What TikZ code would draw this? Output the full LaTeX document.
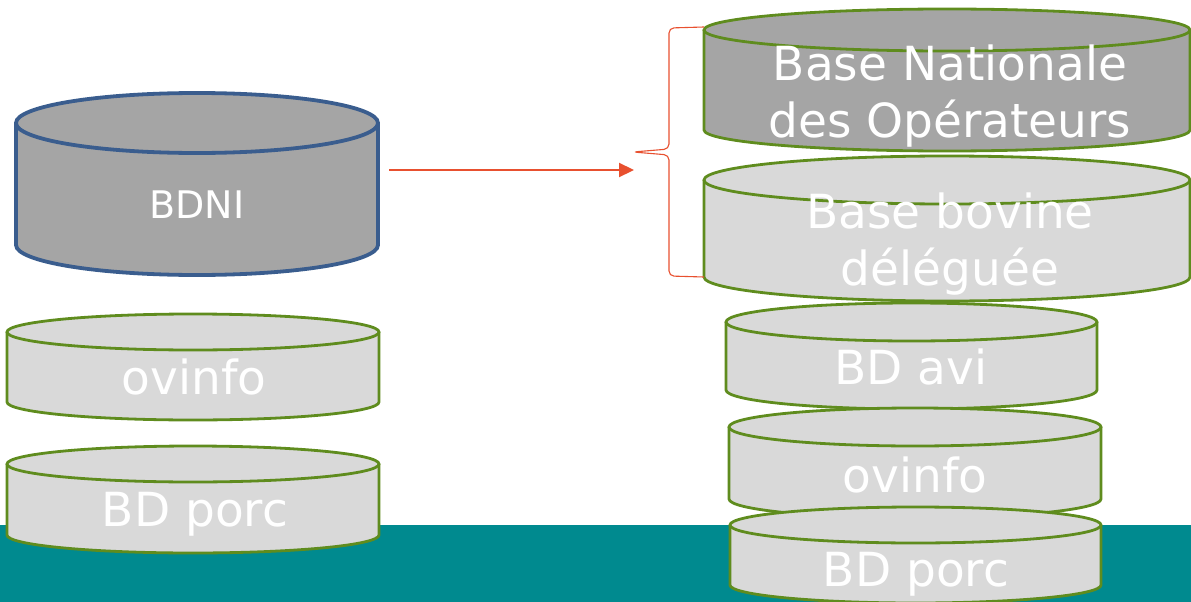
\documentclass[tikz,border=0pt]{standalone}
\usepackage{fontspec}
\setmainfont{DejaVu Sans}
\usetikzlibrary{arrows.meta}
\definecolor{teal}{HTML}{008A8F}
\definecolor{dgray}{HTML}{A5A5A5}
\definecolor{lgray}{HTML}{D9D9D9}
\definecolor{grn}{HTML}{5F8C1E}
\definecolor{blu}{HTML}{3A5D8E}
\definecolor{ored}{HTML}{E8502F}
% name, cx, cy (top centre), rx, ry, h, fill, draw colour, line width
\newcommand\dbcyl[9]{%
  \fill[#7] (#2-#4,#3) -- (#2-#4,#3-#6) arc[start angle=180,end angle=360,x radius=#4pt,y radius=#5pt] -- (#2+#4,#3) arc[start angle=0,end angle=180,x radius=#4pt,y radius=#5pt] -- cycle;
  \draw[#8,line width=#9] (#2-#4,#3) -- (#2-#4,#3-#6) arc[start angle=180,end angle=360,x radius=#4pt,y radius=#5pt] -- (#2+#4,#3);
  \draw[#8,line width=#9] (#2,#3) ellipse[x radius=#4pt,y radius=#5pt];
  \coordinate (#1) at (#2,#3-#6/2);
}
\tikzset{
  lbl/.style={text=white,font=\fontsize{47}{57}\selectfont,align=center,inner sep=0pt},
  lblsmall/.style={text=white,font=\fontsize{38}{44}\selectfont,align=center,inner sep=0pt},
  arr/.style={ored,line width=2.2pt,-{Triangle[length=15pt,width=14pt]}},
  brace/.style={ored,line width=1.1pt,rounded corners=5pt}
}
\begin{document}
\begin{tikzpicture}[x=1pt,y=1pt]
\useasboundingbox (0,0) rectangle (1191,-602);
\fill[teal] (0,-525) rectangle (1191,-602);
% left column
\dbcyl{cBDNI}{197}{-123}{181}{30}{122}{dgray}{blu}{3.8pt}
\node[lblsmall] (tBDNI) at (197,-205) {BDNI};
\dbcyl{cOvL}{193}{-332}{186}{18}{70}{lgray}{grn}{2.8pt}
\node[lbl] (tOvL) at (194,-377) {ovinfo};
\dbcyl{cPoL}{193}{-464}{186}{18}{71}{lgray}{grn}{2.8pt}
\node[lbl] (tPoL) at (195,-514) {BD porc};
% right column
\dbcyl{cBNO}{947}{-30}{243}{21}{100}{dgray}{grn}{2.8pt}
\node[lbl] (tBNO) at (950,-96) {Base Nationale\\des Opérateurs};
\dbcyl{cBov}{947}{-180}{243}{24}{97}{lgray}{grn}{2.8pt}
\node[lbl] (tBov) at (950,-244) {Base bovine\\déléguée};
\dbcyl{cAvi}{911.5}{-322}{185.5}{19}{68}{lgray}{grn}{2.8pt}
\node[lbl] (tAvi) at (911,-367) {BD avi};
\dbcyl{cOvR}{915}{-427}{186}{19}{72}{lgray}{grn}{2.8pt}
\node[lbl] (tOvR) at (915,-475) {ovinfo};
\dbcyl{cPoR}{915.5}{-525}{185.5}{18}{60}{lgray}{grn}{2.8pt}
\node[lbl] (tPoR) at (916,-574) {BD porc};
% arrow and brace
\coordinate (aS) at (389,-170);
\coordinate (aE) at (634,-170);
\draw[arr] (aS) -- (aE);
\coordinate (bT) at (704,-27);
\coordinate (bTip) at (633,-152);
\coordinate (bB) at (704,-277);
\draw[brace] (bT) -- (669,-28) -- (669,-149) -- (bTip) -- (669,-155) -- (669,-276) -- (bB);
\end{tikzpicture}
\end{document}
